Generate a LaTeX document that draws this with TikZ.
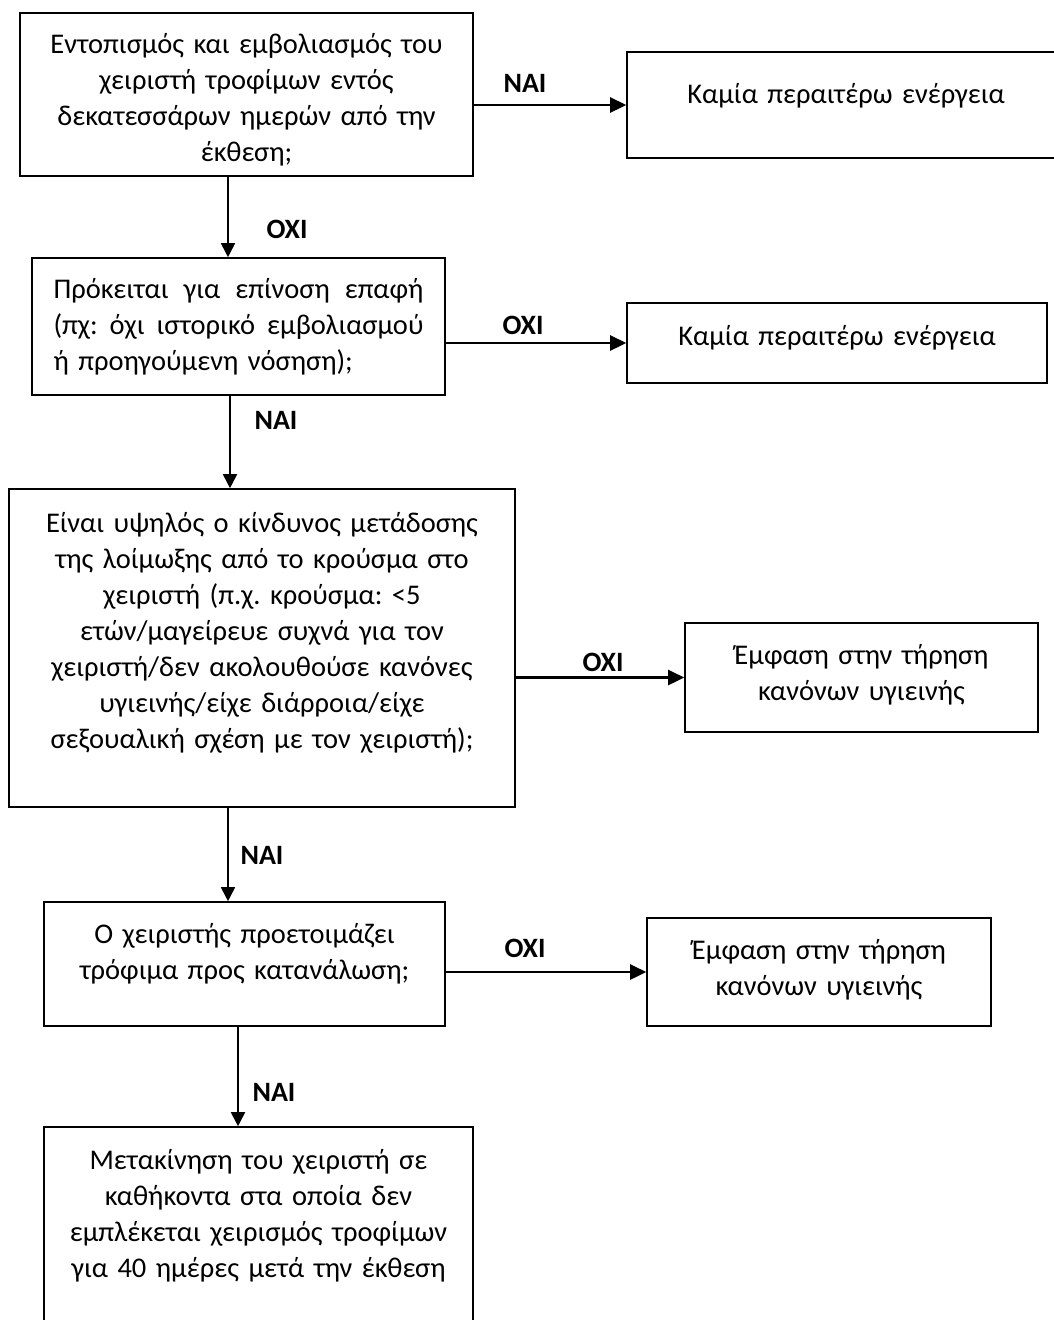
\documentclass[tikz,border=0pt]{standalone}
\usepackage{fontspec}
\setmainfont{Carlito}
\frenchspacing
\usetikzlibrary{arrows.meta,calc}

\begin{document}
\begin{tikzpicture}[x=1pt,y=-1pt]
      \tikzset{box/.style={draw,
          line width=1.6pt,
          inner sep=0pt,
          align=center,
          font=\fontsize{28.5}{36}\selectfont},
        down/.style={line width=1.8pt,-{Triangle[length=14pt,width=14pt]}},
        side/.style={line width=2.6pt,-{Triangle[length=16pt,width=15pt]}},
        answer/.style={font=\fontsize{28}{30}\selectfont\bfseries}
      }
      \useasboundingbox (0,0) rectangle (1053,1320);
      % questions on the left
      \node [box,minimum width=453pt,minimum height=163pt,text width=440pt] (Q1) at (246.5,94.5)
        {\rule{0pt}{31pt}Εντοπισμός και εμβολιασμός του\\ χειριστή τροφίμων εντός\\ δεκατεσσάρων ημερών από την\\ έκθεση;};
      \node [box,minimum width=413pt,minimum height=137pt,text width=370pt,align=left] (Q2) at (238.5,326.5)
        {\makebox[370pt][l]{Πρόκειται\hfill για\hfill επίνοση\hfill επαφή}\\
         \makebox[370pt][l]{(πχ:\hfill όχι\hfill ιστορικό\hfill εμβολιασμού}\\
         ή προηγούμενη νόσηση);};
      \node [box,minimum width=506pt,minimum height=318pt,text width=490pt] (Q3) at (262,648)
        {Είναι υψηλός ο κίνδυνος μετάδοσης\\ της λοίμωξης από το κρούσμα στο\\ χειριστή (π.χ. κρούσμα: <5\\
         ετών/μαγείρευε συχνά για τον\\ χειριστή/δεν ακολουθούσε κανόνες\\ υγιεινής/είχε διάρροια/είχε\\
         σεξουαλική σχέση με τον χειριστή);\\ \mbox{}};
      \node [box,minimum width=401pt,minimum height=124pt,text width=390pt] (Q4) at (244.5,964)
        {Ο χειριστής προετοιμάζει\\ τρόφιμα προς κατανάλωση;\\[-10pt] \mbox{}};
      \node [box,minimum width=429pt,minimum height=213pt,text width=415pt] (Q5) at (258.5,1233.5)
        {Μετακίνηση του χειριστή σε\\ καθήκοντα στα οποία δεν\\ εμπλέκεται χειρισμός τροφίμων\\ για 40 ημέρες μετά την έκθεση\\[4pt] \mbox{}};
      % outcomes on the right
      \node [box,minimum width=438pt,minimum height=106pt,text width=420pt] (R1) at (846,105)
        {Καμία περαιτέρω ενέργεια\\[-12pt] \mbox{}};
      \node [box,minimum width=420pt,minimum height=80pt,text width=400pt] (R2) at (837,343)
        {Καμία περαιτέρω ενέργεια\\[-20pt] \mbox{}};
      \node [box,minimum width=353pt,minimum height=109pt,text width=340pt] (R3) at (861.5,677.5)
        {Έμφαση στην τήρηση\\ κανόνων υγιεινής\\[-26pt] \mbox{}};
      \node [box,minimum width=344pt,minimum height=108pt,text width=330pt] (R4) at (819,972)
        {Έμφαση στην τήρηση\\ κανόνων υγιεινής\\[-26pt] \mbox{}};

      \draw [down] (Q1.south -| 228,0) -- (Q2.north -| 228,0);
      \draw [down] (Q2.south -| 230,0) -- (Q3.north -| 230,0);
      \draw [down] (Q3.south -| 228,0) -- (Q4.north -| 228,0);
      \draw [down] (Q4.south -| 238,0) -- (Q5.north -| 238,0);
      \draw [side] (Q1.east |- R1.west) -- (R1.west);
      \draw [side] (Q2.east |- R2.west) -- (R2.west);
      \draw [side] (Q3.east |- R3.west) -- (R3.west);
      \draw [side] (Q4.east |- R4.west) -- (R4.west);

      \node [answer] (yes1) at (525,83) {ΝΑΙ};
      \node [answer] (no1) at (287,229) {ΟΧΙ};
      \node [answer] (no2) at (523,325) {ΟΧΙ};
      \node [answer] (yes2) at (276,420) {ΝΑΙ};
      \node [answer] (no3) at (603,662) {ΟΧΙ};
      \node [answer] (yes3) at (262,855) {ΝΑΙ};
      \node [answer] (no4) at (525,948) {ΟΧΙ};
      \node [answer] (yes4) at (274,1092) {ΝΑΙ};
    \end{tikzpicture}
\end{document}
